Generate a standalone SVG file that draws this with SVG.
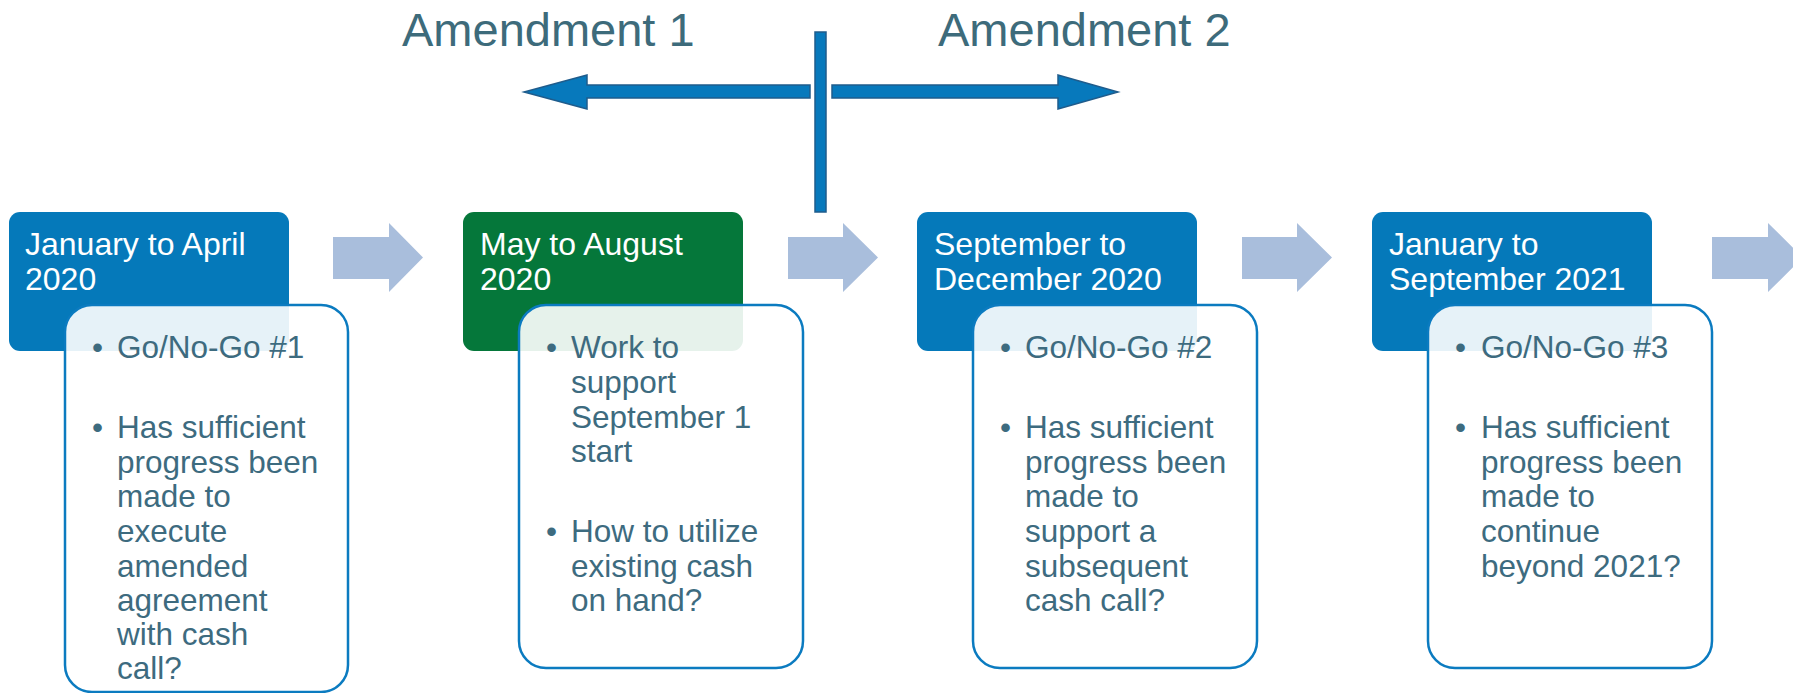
<svg xmlns="http://www.w3.org/2000/svg" width="1793" height="693" viewBox="0 0 1793 693">
<style>
.hdr{fill:#0579BA}
.hdr-g{fill:#05773A}
.det{fill:#ffffff;fill-opacity:0.9;stroke:#0B7BC0;stroke-width:2.5}
.ht{font-family:"Liberation Sans",Arial,sans-serif;font-size:32px;fill:#ffffff}
.bt{font-family:"Liberation Sans",Arial,sans-serif;font-size:31.5px;fill:#3D6B7F}
.am{font-family:"Liberation Sans",Arial,sans-serif;font-size:47px;fill:#3D6B7B}
.chev{fill:#A9BEDC}
.amarrow{fill:#0779BC;stroke:#1F5C8C;stroke-width:1.5}
</style>
<rect width="1793" height="693" fill="#ffffff"/>

<g id="amendments">
  <text class="am" x="402" y="46">Amendment 1</text>
  <text class="am" x="938" y="46">Amendment 2</text>
  <polygon class="amarrow" points="810,85 587,85 587,75 524,92 587,109 587,98 810,98"/>
  <polygon class="amarrow" points="832,85 1058,85 1058,75 1118,92 1058,109 1058,98 832,98"/>
  <rect class="amarrow" x="815" y="32" width="11" height="180"/>
</g>

<g id="connectors">
  <polygon class="chev" points="333,237 389,237 389,223 423,257.5 389,292 389,279 333,279"/>
  <polygon class="chev" points="788,237 843,237 843,223 878,257.5 843,292 843,279 788,279"/>
  <polygon class="chev" points="1242,237 1297,237 1297,223 1332,257.5 1297,292 1297,279 1242,279"/>
  <polygon class="chev" points="1712,237 1768,237 1768,223 1803,257.5 1768,292 1768,279 1712,279"/>
</g>

<g id="node1">
  <rect class="hdr" x="9" y="212" width="280" height="139" rx="11"/>
  <text class="ht" x="25" y="255">January to April</text>
  <text class="ht" x="25" y="290">2020</text>
  <rect class="det" x="65" y="305" width="283" height="387" rx="27"/>
  <text class="bt"><tspan x="92" y="358">•</tspan><tspan x="117" y="358">Go/No-Go #1</tspan></text>
  <text class="bt"><tspan x="92" y="438">•</tspan>
    <tspan x="117" y="438">Has sufficient</tspan>
    <tspan x="117" y="473">progress been</tspan>
    <tspan x="117" y="507">made to</tspan>
    <tspan x="117" y="542">execute</tspan>
    <tspan x="117" y="577">amended</tspan>
    <tspan x="117" y="611">agreement</tspan>
    <tspan x="117" y="645">with cash</tspan>
    <tspan x="117" y="679">call?</tspan></text>
</g>

<g id="node2">
  <rect class="hdr-g" x="463" y="212" width="280" height="139" rx="11"/>
  <text class="ht" x="480" y="255">May to August</text>
  <text class="ht" x="480" y="290">2020</text>
  <rect class="det" x="519" y="305" width="284" height="363" rx="27"/>
  <text class="bt"><tspan x="546" y="358">•</tspan>
    <tspan x="571" y="358">Work to</tspan>
    <tspan x="571" y="393">support</tspan>
    <tspan x="571" y="428">September 1</tspan>
    <tspan x="571" y="462">start</tspan></text>
  <text class="bt"><tspan x="546" y="542">•</tspan>
    <tspan x="571" y="542">How to utilize</tspan>
    <tspan x="571" y="577">existing cash</tspan>
    <tspan x="571" y="611">on hand?</tspan></text>
</g>

<g id="node3">
  <rect class="hdr" x="917" y="212" width="280" height="139" rx="11"/>
  <text class="ht" x="934" y="255">September to</text>
  <text class="ht" x="934" y="290">December 2020</text>
  <rect class="det" x="973" y="305" width="284" height="363" rx="27"/>
  <text class="bt"><tspan x="1000" y="358">•</tspan><tspan x="1025" y="358">Go/No-Go #2</tspan></text>
  <text class="bt"><tspan x="1000" y="438">•</tspan>
    <tspan x="1025" y="438">Has sufficient</tspan>
    <tspan x="1025" y="473">progress been</tspan>
    <tspan x="1025" y="507">made to</tspan>
    <tspan x="1025" y="542">support a</tspan>
    <tspan x="1025" y="577">subsequent</tspan>
    <tspan x="1025" y="611">cash call?</tspan></text>
</g>

<g id="node4">
  <rect class="hdr" x="1372" y="212" width="280" height="139" rx="11"/>
  <text class="ht" x="1389" y="255">January to</text>
  <text class="ht" x="1389" y="290">September 2021</text>
  <rect class="det" x="1428" y="305" width="284" height="363" rx="27"/>
  <text class="bt"><tspan x="1455" y="358">•</tspan><tspan x="1481" y="358">Go/No-Go #3</tspan></text>
  <text class="bt"><tspan x="1455" y="438">•</tspan>
    <tspan x="1481" y="438">Has sufficient</tspan>
    <tspan x="1481" y="473">progress been</tspan>
    <tspan x="1481" y="507">made to</tspan>
    <tspan x="1481" y="542">continue</tspan>
    <tspan x="1481" y="577">beyond 2021?</tspan></text>
</g>
</svg>
